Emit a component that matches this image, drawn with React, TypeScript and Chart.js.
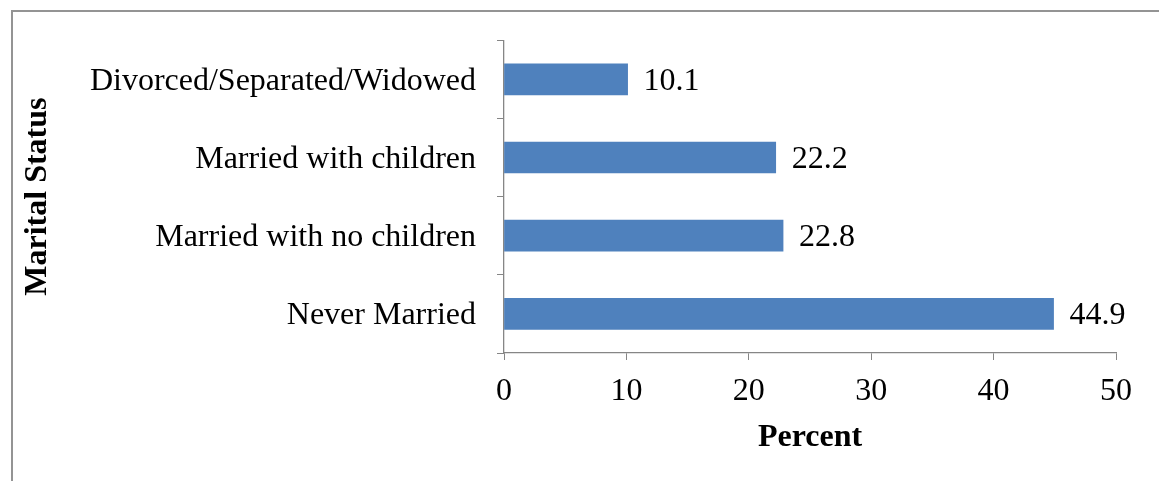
import React, { useEffect, useRef } from "react";
import { Chart, registerables } from "chart.js";

Chart.register(...registerables);

const categories = [
  "Divorced/Separated/Widowed",
  "Married with children",
  "Married with no children",
  "Never Married",
];
const percentValues = [10.1, 22.2, 22.8, 44.9];
const xTickMin = 0;
const xTickMax = 50;
const xTickStep = 10;

const FONT = '"Liberation Serif", "Times New Roman", serif';
const AXIS = "#868686";
const FS = 32;

const dataLabelPlugin = {
  id: "dataLabels",
  afterDatasetsDraw(chart: any) {
    const ctx = chart.ctx;
    const meta = chart.getDatasetMeta(0);
    ctx.save();
    ctx.font = `${FS}px ${FONT}`;
    ctx.fillStyle = "#000";
    ctx.textAlign = "left";
    ctx.textBaseline = "middle";
    meta.data.forEach((bar: any, i: number) => {
      const v = chart.data.datasets[0].data[i];
      ctx.fillText(Number(v).toFixed(1), bar.x + 16, bar.y + 2);
    });
    ctx.restore();
  },
};

export default function App() {
  const ref = useRef<HTMLCanvasElement | null>(null);
  useEffect(() => {
    if (!ref.current) return;
    const chart = new Chart(ref.current, {
      type: "bar",
      data: {
        labels: categories,
        datasets: [
          {
            data: percentValues,
            backgroundColor: "#4F81BD",
            borderWidth: 0,
            barThickness: 31,
          },
        ],
      },
      plugins: [dataLabelPlugin],
      options: {
        indexAxis: "y",
        animation: false,
        responsive: false,
        maintainAspectRatio: false,
        layout: { padding: { top: 40, right: 43, left: 0, bottom: 0 } },
        plugins: { legend: { display: false }, tooltip: { enabled: false } },
        scales: {
          x: {
            min: xTickMin,
            max: xTickMax,
            ticks: {
              stepSize: xTickStep,
              color: "#000",
              font: { family: FONT, size: FS },
              padding: 12,
            },
            grid: {
              drawOnChartArea: false,
              drawTicks: true,
              tickLength: 7,
              color: AXIS,
            },
            border: { color: AXIS, width: 1.3 },
            title: {
              display: true,
              text: "Percent",
              color: "#000",
              font: { family: FONT, size: FS, weight: "bold" },
              padding: { top: 0, bottom: 24 },
            },
            afterFit(scale: any) {
              scale.height = 128;
            },
          },
          y: {
            ticks: {
              color: "#000",
              font: { family: FONT, size: FS },
              padding: 21,
              labelOffset: 2,
            },
            grid: {
              drawOnChartArea: false,
              drawTicks: true,
              tickLength: 7,
              color: AXIS,
              offset: true,
            },
            border: { color: AXIS, width: 1.3 },
            title: {
              display: true,
              text: "Marital Status",
              color: "#000",
              font: { family: FONT, size: FS, weight: "bold" },
              padding: { top: 19, bottom: 0 },
            },
            afterFit(scale: any) {
              scale.width = 504;
            },
          },
        },
      },
    });
    return () => chart.destroy();
  }, []);

  return (
    <div
      style={{
        position: "fixed",
        left: 0,
        top: 0,
        width: 1159,
        height: 481,
        overflow: "hidden",
        background: "#fff",
      }}
    >
      <div
        style={{
          position: "absolute",
          left: 11,
          top: 10,
          width: 2000,
          height: 2000,
          borderLeft: "2px solid #949494",
          borderTop: "2px solid #949494",
        }}
      />
      <canvas
        ref={ref}
        width={1159}
        height={481}
        style={{ position: "absolute", left: 0, top: 0, width: 1159, height: 481 }}
      />
    </div>
  );
}
